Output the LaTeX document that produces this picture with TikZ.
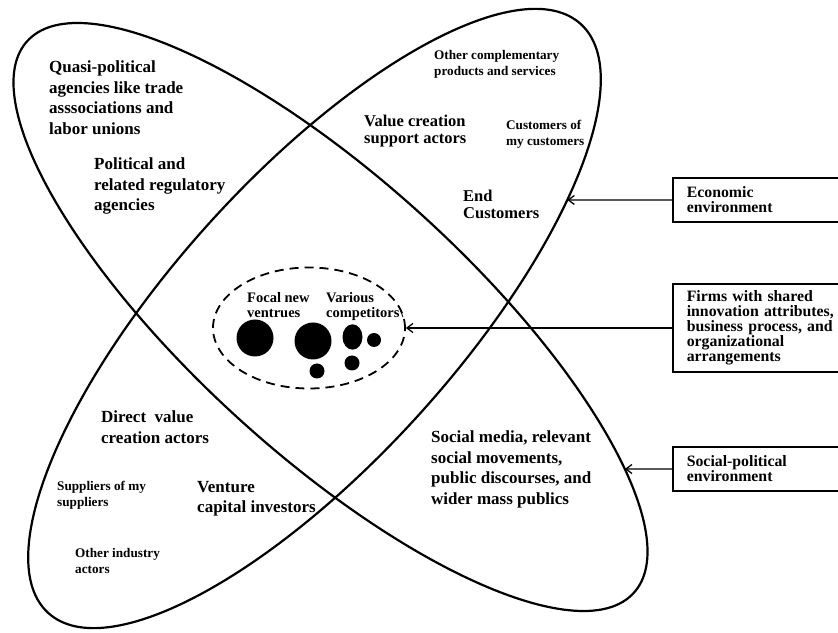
\documentclass[tikz,border=0pt]{standalone}
\usepackage{fontspec}
\setmainfont{Liberation Serif}
\usetikzlibrary{shapes.geometric,arrows.meta,intersections}
\begin{document}
\begin{tikzpicture}[x=1pt,y=1pt,
 lbl/.style={inner sep=0pt, anchor=north west, align=left, font=\bfseries\fontsize{17}{20.5}\selectfont},
 lbltight/.style={lbl, font=\bfseries\fontsize{16.5}{16.5}\selectfont},
 lblsmall/.style={lbl, font=\bfseries\fontsize{13.2}{15.5}\selectfont},
 lblmid/.style={lbl, font=\bfseries\fontsize{14.5}{15}\selectfont},
 envbox/.style={draw, line width=1.6pt, rectangle, anchor=west, align=left, text width=152pt, inner xsep=14pt, inner ysep=0pt, font=\bfseries\fontsize{15.8}{15}\selectfont},
 ring/.style={line width=2.2pt},
 arr/.style={line width=1.3pt, -{Straight Barb[length=6pt,width=9pt]}},
 dot/.style={fill=black}
]
\useasboundingbox (0,0) rectangle (838,632);
\clip (0,0) rectangle (838,632);

% big ellipses
\draw[ring, name path=ellA, rotate around={-42.3:(330.5,315)}] (330.5,315) ellipse [x radius=410, y radius=137];
\draw[ring, name path=ellB, rotate around={47.9:(314.5,313.5)}] (314.5,313.5) ellipse [x radius=397, y radius=142];

% dashed competitor ellipse
\node[draw, ellipse, line width=1.8pt, dash pattern=on 9pt off 6pt, minimum width=192pt, minimum height=121pt, inner sep=0pt] (comp) at (309,304) {};

% dots
\fill[dot] (255,294) circle [radius=18.5];
\fill[dot] (313,291) circle [radius=18.5];
\fill[dot] (352.5,295) ellipse [x radius=10, y radius=12.7];
\fill[dot] (374,292) circle [radius=7];
\fill[dot] (317,261) circle [radius=7.5];
\fill[dot] (352,269) circle [radius=7.5];

% labels
\node[lbl] (quasi) at (49,571) {Quasi-political\\agencies like trade\\asssociations and\\labor unions};
\node[lbl] (polit) at (94,474) {Political and\\related regulatory\\agencies};
\node[lblsmall] (compl) at (434,581.6) {Other complementary\\products and services};
\node[lbltight] (vcs) at (364,517) {Value creation\\support actors};
\node[lblsmall] (custc) at (506,511.6) {Customers of\\my customers};
\node[lbltight] (endc) at (463,442) {End\\Customers};
\node[lbl] (dvc) at (101,221) {Direct\ \ value\\creation actors};
\node[lblsmall] (supp) at (57,150.6) {Suppliers of my\\suppliers};
\node[lbl] (vci) at (197,151) {Venture\\capital investors};
\node[lblsmall] (oia) at (75,83.6) {Other industry\\actors};
\node[lbl] (smed) at (431,201) {Social media, relevant\\social movements,\\public discourses, and\\wider mass publics};
\node[lblmid] (focal) at (247,340) {Focal new\\ventrues};
\node[lblmid] (vari) at (326,340) {Various\\competitors\textbackslash};

% environment boxes
\node[envbox, minimum height=44pt] (econ) at (672,432) {Economic\\environment};
\node[envbox, minimum height=88pt] (firms) at (672,304) {Firms with shared\\innovation attributes,\\business process, and\\organizational\\arrangements};
\node[envbox, minimum height=44pt] (soc) at (672,163) {Social-political\\environment};

% arrows
\path[name path=econray] (econ.west) -- ++(-150,0);
\path[name intersections={of=ellB and econray, by=ea}];
\draw[arr] (econ.west) -- (ea);
\draw[arr] (firms.west) -- (comp.east);
\path[name path=socray] (soc.west) -- ++(-150,0);
\path[name intersections={of=ellA and socray, by=sa}];
\draw[arr] (soc.west) -- (sa);
\end{tikzpicture}
\end{document}
